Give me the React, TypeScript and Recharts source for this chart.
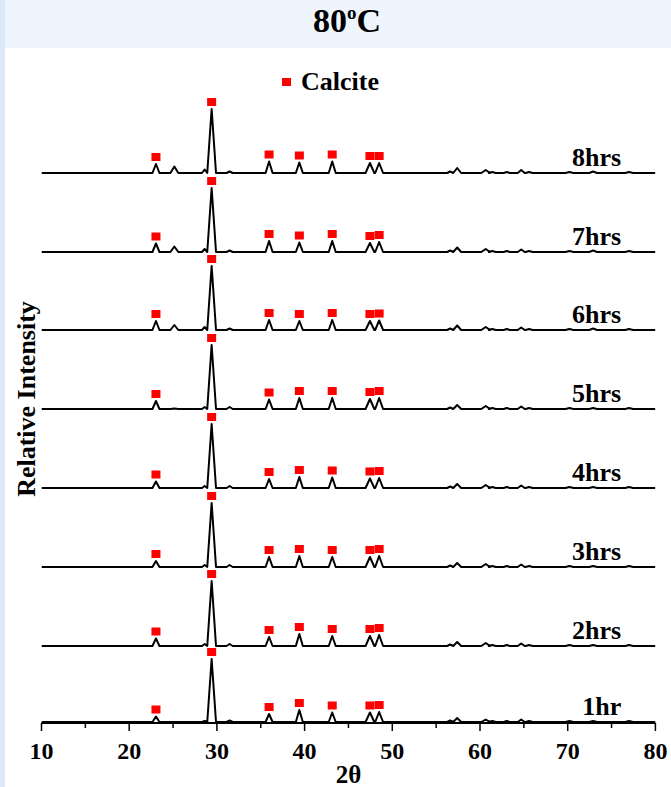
import React from 'react'
import {
  ComposedChart,
  Line,
  Scatter,
  XAxis,
  YAxis,
  Label,
} from 'recharts'

// 2θ ticks (labels only on multiples of 10, minor ticks at the 5s)
const twoThetaTicks = [10, 15, 20, 25, 30, 35, 40, 45, 50, 55, 60, 65, 70, 75, 80]

// peak positions (2θ) and their half widths
const peakPositions = [23.05, 25.15, 28.6, 29.4, 31.45, 35.95, 39.4, 43.15, 47.45, 48.5, 56.6, 57.4, 60.65, 61.4, 63.05, 64.7, 65.6, 70.2, 72.9, 77.0]
const peakHalfWidths = [0.4, 0.45, 0.3, 0.5, 0.35, 0.4, 0.4, 0.4, 0.5, 0.45, 0.35, 0.45, 0.5, 0.4, 0.35, 0.4, 0.4, 0.45, 0.45, 0.45]

// which peaks are marked as calcite
const calcitePeaks = [0, 3, 5, 6, 7, 8, 9]

const sampleLabels = ['1hr', '2hrs', '3hrs', '4hrs', '5hrs', '6hrs', '7hrs', '8hrs']
const traceOffsets = [1, 77, 156, 235, 314, 393, 471, 550]

// peak heights
const heights1hr = [5.5, 0, 1, 63, 1.5, 8, 12, 9.5, 9.5, 10, 1.5, 4, 2.5, 1, 1, 2.5, 1, 1, 1, 1]
const heights2hrs = [7.5, 0, 2, 65, 2, 9, 12, 10, 10, 11, 1.5, 4, 3, 1, 1, 2.5, 1, 1, 1, 1]
const heights3hrs = [6, 0, 2, 64, 2, 10, 11, 10, 10, 11, 1.5, 4, 3, 1, 1, 2.5, 1, 1, 1, 1]
const heights4hrs = [6.5, 0, 2, 64, 2, 9, 11, 10.5, 9.5, 10, 1.5, 4, 3, 1, 1, 2.5, 1, 1, 1, 1]
const heights5hrs = [8, 0.5, 2, 64, 2, 9.5, 11, 11, 10, 11, 1.5, 4, 3, 1, 1, 2.5, 1, 1, 1, 1]
const heights6hrs = [9, 5, 3, 64, 1.5, 10, 9, 10, 9, 9.5, 1.5, 4.5, 3, 1, 1, 2.5, 1, 1, 1.5, 1]
const heights7hrs = [8.5, 5.5, 3, 64, 1.5, 11, 9.5, 11, 9, 10, 1.5, 4.5, 3, 1, 1, 2.5, 1, 1, 1.5, 1]
const heights8hrs = [9, 6.5, 3.5, 64, 1.5, 11.5, 10.5, 11.5, 10, 10, 1.5, 5, 3, 1, 1, 3, 1, 1, 1.5, 1]

const allHeights = [heights1hr, heights2hrs, heights3hrs, heights4hrs, heights5hrs, heights6hrs, heights7hrs, heights8hrs]

const MARKER_GAP = 7
const LABEL_X = 76.1
const LABEL_LIFT = 7

const FONT = '"Liberation Serif", "Times New Roman", serif'

function buildTrace(heights: number[], offset: number) {
  const pts: { x: number; y: number }[] = [{ x: 10, y: offset }]
  peakPositions.forEach((pos, i) => {
    const h = heights[i]
    const w = peakHalfWidths[i]
    if (h <= 0) return
    pts.push({ x: pos - w, y: offset })
    pts.push({ x: pos, y: offset + h })
    pts.push({ x: pos + w, y: offset })
  })
  pts.push({ x: 80, y: offset })
  return pts
}

const traces = allHeights.map((h, i) => buildTrace(h, traceOffsets[i]))

const markers = allHeights.flatMap((h, i) =>
  calcitePeaks.map(p => ({ x: peakPositions[p], y: traceOffsets[i] + h[p] + MARKER_GAP }))
)

const labelPoints = sampleLabels.map((name, i) => ({ x: LABEL_X, y: traceOffsets[i] + LABEL_LIFT, name }))

function AxisTick(props: any) {
  const { x, y, payload } = props
  const major = payload.value % 10 === 0
  return (
    <g>
      <line x1={x} x2={x} y1={y} y2={y + (major ? 8 : 5)} stroke="#000" strokeWidth={1.5} />
      {major && (
        <text x={x} y={y + 36} textAnchor="middle" fontFamily={FONT} fontWeight="bold" fontSize={24} fill="#000">
          {payload.value}
        </text>
      )}
    </g>
  )
}

function MarkerShape(props: any) {
  const { cx, cy } = props
  return <rect x={cx - 4.5} y={cy - 4} width={9} height={8} fill="#ff0000" />
}

function TraceLabel(props: any) {
  const { cx, cy, payload } = props
  return (
    <text x={cx} y={cy} textAnchor="end" fontFamily={FONT} fontWeight="bold" fontSize={26} fill="#000">
      {payload?.name}
    </text>
  )
}

export default function App() {
  return (
    <div style={{ position: 'absolute', left: 0, top: 0, width: 671, height: 787, background: '#fff', overflow: 'hidden' }}>
      <ComposedChart width={671} height={787} margin={{ top: 93, right: 15.6, left: 41.5, bottom: 14 }}>
        <XAxis
          type="number"
          dataKey="x"
          domain={[10, 80]}
          ticks={twoThetaTicks}
          interval={0}
          allowDataOverflow
          height={50}
          tickSize={0}
          tickMargin={0}
          tick={<AxisTick />}
          axisLine={{ stroke: '#000', strokeWidth: 2 }}
        >
          <Label
            content={(p: any) => {
              const vb = p.viewBox || { x: 41.5, width: 614 }
              return (
                <text x={vb.x + vb.width / 2} y={783} textAnchor="middle" fontFamily={FONT} fontWeight="bold" fontSize={25} fill="#000">
                  2θ
                </text>
              )
            }}
          />
        </XAxis>
        <YAxis type="number" dataKey="y" domain={[0, 630]} hide />
        {traces.map((pts, i) => (
          <Line
            key={sampleLabels[i]}
            data={pts}
            dataKey="y"
            type="linear"
            stroke="#000"
            strokeWidth={2}
            strokeLinejoin="round"
            dot={false}
            activeDot={false}
            isAnimationActive={false}
          />
        ))}
        <Scatter data={markers} dataKey="y" shape={<MarkerShape />} isAnimationActive={false} />
        <Scatter data={labelPoints} dataKey="y" shape={<TraceLabel />} isAnimationActive={false} />
      </ComposedChart>

      {/* page decoration: left strip and title band */}
      <div style={{ position: 'absolute', left: 0, top: 0, width: 5, height: 787, background: '#dde9f8' }} />
      <div
        style={{
          position: 'absolute', left: 5, top: 0, width: 666, height: 48, background: '#eef5fd',
        }}
      />
      <div
        style={{
          position: 'absolute', left: 313, top: 1, whiteSpace: 'nowrap',
          fontFamily: FONT, fontWeight: 'bold', fontSize: 34, color: '#000', lineHeight: '40px',
        }}
      >
        80<span style={{ fontSize: 19, position: 'relative', top: -13 }}>o</span>C
      </div>

      {/* legend */}
      <div style={{ position: 'absolute', left: 282, top: 67, display: 'flex', alignItems: 'center', fontFamily: FONT, fontWeight: 'bold', fontSize: 26 }}>
        <span style={{ width: 9, height: 8, background: '#ff0000', display: 'inline-block', marginRight: 10 }} />
        <span>Calcite</span>
      </div>

      {/* y axis title */}
      <div
        style={{
          position: 'absolute', left: 27, top: 399, transform: 'translate(-50%, -50%) rotate(-90deg)',
          whiteSpace: 'nowrap', fontFamily: FONT, fontWeight: 'bold', fontSize: 26,
        }}
      >
        Relative Intensity
      </div>
    </div>
  )
}
